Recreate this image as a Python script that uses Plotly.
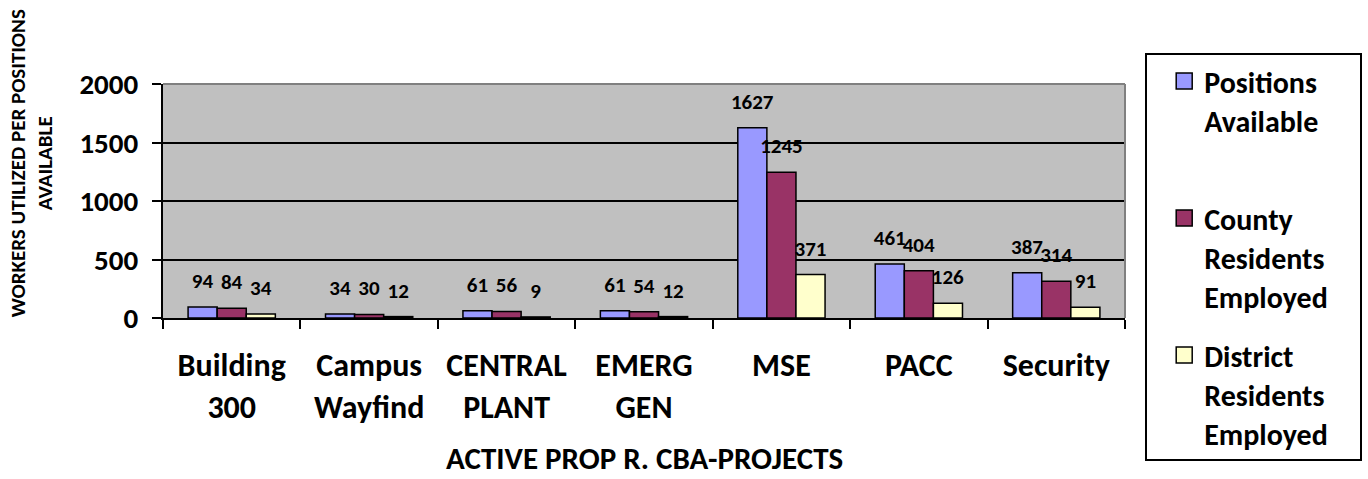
import plotly.graph_objects as go

categories = ["Building<br>300", "Campus<br>Wayfind", "CENTRAL<br>PLANT", "EMERG<br>GEN", "MSE", "PACC", "Security"]
series_names = ["Positions<br>Available", "County<br>Residents<br>Employed", "District<br>Residents<br>Employed"]
positions_available = [94, 34, 61, 61, 1627, 461, 387]
county_residents = [84, 30, 56, 54, 1245, 404, 314]
district_residents = [34, 12, 9, 12, 371, 126, 91]
colors = ["#9999FF", "#993366", "#FFFFCC"]
y_ticks = [0, 500, 1000, 1500, 2000]

FONT = "Calibri, Carlito, Lato, sans-serif"
NB = "\u00a0"

fig = go.Figure()
all_series = [positions_available, county_residents, district_residents]
for name, vals, col in zip(series_names, all_series, colors):
    fig.add_trace(go.Bar(
        x=categories, y=vals, name=name, marker=dict(color=col, line=dict(color="black", width=1.5)),
        texttemplate="<span style='font-size:21px'>%{y}</span><br><span style='color:rgba(0,0,0,0)'>0</span>",
        textposition="outside", constraintext="none", cliponaxis=False,
        textfont=dict(family=FONT, size=10, color="black", weight="bold"),
        showlegend=False,
    ))

legend_labels = [series_names[0] + "<br> ", series_names[1] + NB * 4, series_names[2]]
for i, (lab, col) in enumerate(zip(legend_labels, colors)):
    fig.add_trace(go.Scatter(
        x=[None], y=[None], mode="markers", name=lab, legendgroup=f"g{i}",
        marker=dict(symbol="square", size=16, color=col, line=dict(color="black", width=1.5)),
    ))

fig.update_layout(
    width=1368, height=479,
    margin=dict(l=163, r=243, t=84, b=161, autoexpand=False),
    paper_bgcolor="white", plot_bgcolor="#C0C0C0",
    barmode="group", bargap=0.365, bargroupgap=0,
    font=dict(family=FONT, color="black", weight="bold"),
    legend=dict(
        x=1.021, y=1.1325, xanchor="left", yanchor="top",
        bgcolor="white", bordercolor="black", borderwidth=2,
        font=dict(family=FONT, size=30, color="black", weight="bold"),
        valign="top", tracegroupgap=17, traceorder="grouped",
        maxheight=1000, itemwidth=30, indentation=17,
    ),
    xaxis=dict(
        showline=True, linecolor="black", linewidth=2,
        ticks="outside", tickson="boundaries", ticklen=9, tickwidth=2, tickcolor="black",
        tickfont=dict(family=FONT, size=32, color="black", weight="bold"),
        ticklabelstandoff=18,
    ),
    yaxis=dict(
        range=[0, 2000], tickvals=y_ticks,
        showline=True, linecolor="black", linewidth=2,
        ticks="outside", ticklen=9, tickwidth=2, tickcolor="black",
        showgrid=True, gridcolor="black", gridwidth=2, zeroline=False,
        tickfont=dict(family=FONT, size=29, color="black", weight="bold"),
        ticklabelstandoff=8,
    ),
    shapes=[
        dict(type="line", xref="paper", yref="paper", x0=0, x1=1, y0=1, y1=1, line=dict(color="#808080", width=2), layer="above"),
        dict(type="line", xref="paper", yref="paper", x0=1, x1=1, y0=0, y1=1, line=dict(color="#808080", width=2), layer="above"),
    ],
    annotations=[
        dict(text="WORKERS UTILIZED PER POSITIONS<br>AVAILABLE", textangle=-90, xref="paper", yref="paper",
             x=-0.137, y=0.662, xanchor="center", yanchor="middle", showarrow=False,
             font=dict(family=FONT, size=21, color="black", weight="bold")),
        dict(text="ACTIVE PROP R. CBA-PROJECTS", xref="paper", yref="paper",
             x=0.5, y=-0.6, xanchor="center", yanchor="middle", showarrow=False,
             font=dict(family=FONT, size=31, color="black", weight="bold")),
    ],
)

fig.write_html("out.html", config={"displayModeBar": False},
               post_script="document.body.style.margin='0';document.body.style.overflow='hidden';")
